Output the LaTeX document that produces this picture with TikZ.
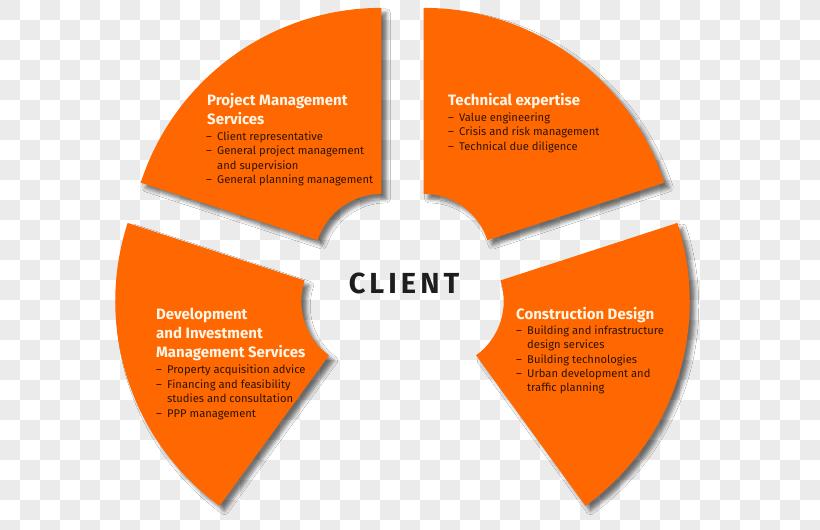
\documentclass[tikz,border=0pt]{standalone}
\usepackage{fontspec}
\setmainfont{Fira Sans}
\usetikzlibrary{shadows.blur}
\definecolor{orng}{RGB}{255,104,0}
\definecolor{chk}{RGB}{235,235,235}
\definecolor{ttl}{RGB}{255,246,232}
\definecolor{btxt}{RGB}{45,20,0}
\definecolor{clnt}{RGB}{30,30,30}
\newcommand\bul[1]{\makebox[11pt][l]{–}#1}
\newcommand\cont[1]{\hspace*{11pt}#1}
\tikzset{
  sector/.style={fill=orng, blur shadow={shadow xshift=5pt, shadow yshift=-5pt, shadow blur radius=4pt, shadow opacity=55}},
  ttlbox/.style={anchor=base west, inner sep=0pt, align=left, text=ttl, font=\fontsize{15}{19}\selectfont\bfseries},
  bulbox/.style={anchor=base west, inner sep=0pt, align=left, text=btxt, font=\fontsize{11.2}{14.4}\selectfont},
}
\begin{document}
\begin{tikzpicture}[x=1pt,y=1pt]
\useasboundingbox (0,0) rectangle (820,530);
% checkerboard background
\fill[white] (0,0) rectangle (820,530);
\begin{scope}
\clip (0,0) rectangle (820,530);
\foreach \i in {0,...,40}{
  \foreach \j in {0,...,26}{
    \pgfmathtruncatemacro\p{mod(\i+\j,2)}
    \ifnum\p=0
      \fill[chk] ({20*\i},{530-20*\j}) rectangle ++(20,-20);
    \fi
  }
}
\end{scope}
\coordinate (C) at (402.5,240);
\def\Ro{253pt}
\def\Ri{67pt}
% top-left sector
\begin{scope}[shift={(C)}, shift={(126:36pt)}]
  \path[sector] (90:\Ro) arc[start angle=90,end angle=162,radius=\Ro] -- (162:\Ri) arc[start angle=162,end angle=90,radius=\Ri] -- cycle;
\end{scope}
% top-right sector
\begin{scope}[shift={(C)}, shift={(54:36pt)}]
  \path[sector] (18:\Ro) arc[start angle=18,end angle=90,radius=\Ro] -- (90:\Ri) arc[start angle=90,end angle=18,radius=\Ri] -- cycle;
\end{scope}
% bottom-left sector
\begin{scope}[shift={(C)}, shift={(198:36pt)}]
  \path[sector] (162:\Ro) arc[start angle=162,end angle=234,radius=\Ro] -- (234:\Ri) arc[start angle=234,end angle=162,radius=\Ri] -- cycle;
\end{scope}
% bottom-right sector
\begin{scope}[shift={(C)}, shift={(-18:36pt)}]
  \path[sector] (-54:\Ro) arc[start angle=-54,end angle=18,radius=\Ro] -- (18:\Ri) arc[start angle=18,end angle=-54,radius=\Ri] -- cycle;
\end{scope}
% client
\node[inner sep=0pt, text=clnt, font=\fontsize{29}{30}\selectfont\bfseries\addfontfeatures{LetterSpace=14}] (client) at (404,{530-283.5}) {CLIENT};
% texts top-left (anchor = baseline of last line)
\node[ttlbox] (t1) at (207,{530-124.5}) {Project Management\\Services};
\node[bulbox] (b1) at (206,{530-183.7}) {\bul{Client representative}\\\bul{General project management}\\\cont{and supervision}\\\bul{General planning management}};
% top-right
\node[ttlbox] (t2) at (448,{530-105.5}) {Technical expertise};
\node[bulbox] (b2) at (448,{530-150.3}) {\bul{Value engineering}\\\bul{Crisis and risk management}\\\bul{Technical due diligence}};
% bottom-left
\node[ttlbox] (t3) at (156,{530-358}) {Development\\and Investment\\Management Services};
\node[bulbox] (b3) at (156,{530-417.2}) {\bul{Property acquisition advice}\\\bul{Financing and feasibility}\\\cont{studies and consultation}\\\bul{PPP management}};
% bottom-right
\node[ttlbox] (t4) at (516,{530-320}) {Construction Design};
\node[bulbox] (b4) at (516,{530-392}) {\bul{Building and infrastructure}\\\cont{design services}\\\bul{Building technologies}\\\bul{Urban development and}\\\cont{traffic planning}};
\end{tikzpicture}
\end{document}
